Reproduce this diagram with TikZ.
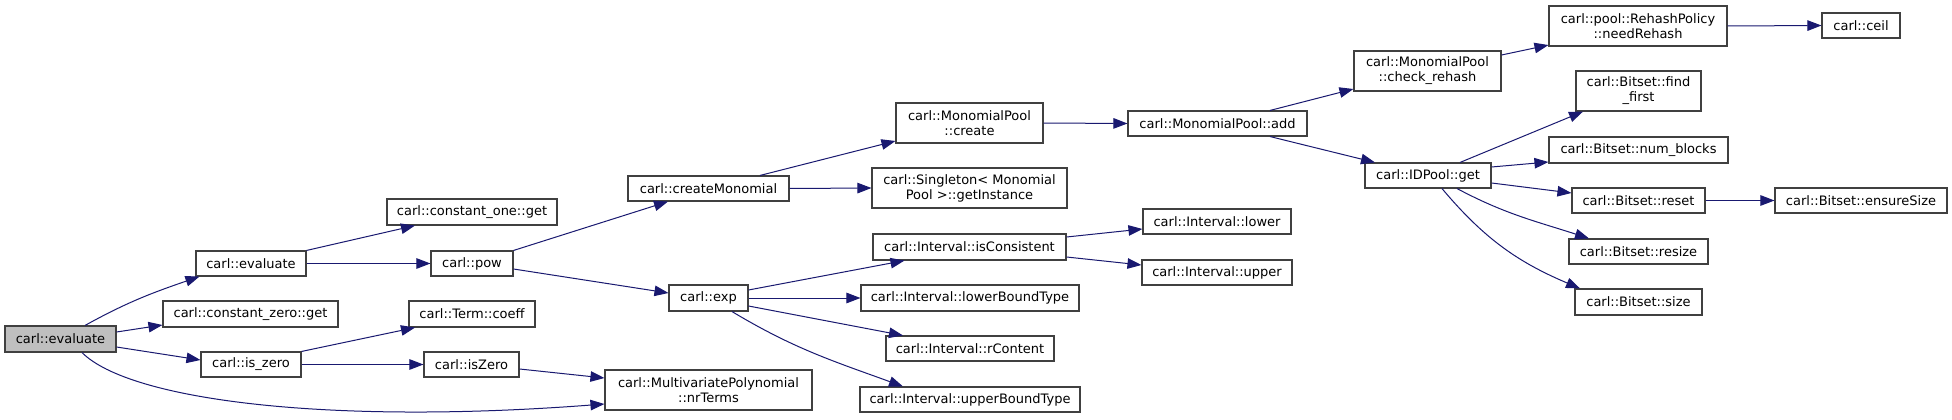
\documentclass[tikz,border=0pt]{standalone}
\usepackage{fontspec}
\setmainfont{DejaVu Sans}
\usetikzlibrary{arrows.meta}
\definecolor{edgec}{HTML}{191970}
\definecolor{boxc}{HTML}{404040}
\definecolor{rootfill}{HTML}{BFBFBF}
\begin{document}
\begin{tikzpicture}[x=1pt,y=-1pt,
  fn/.style={draw=boxc, line width=1.1pt, fill=white, inner sep=0pt, align=center,
    font=\fontsize{13}{15}\selectfont},
  rootfn/.style={fn, fill=rootfill},
  edge/.style={draw=edgec, line width=1pt, -{Triangle[length=14pt,width=10.5pt]}}]
\fill[white] (0,0) rectangle (1952,420);
\useasboundingbox (0,0) rectangle (1952,420);

% rank 0
\node[rootfn, minimum width=111pt, minimum height=26pt] (root) at (60.5,339) {carl::evaluate};
% rank 1
\node[fn, minimum width=110pt, minimum height=25pt] (eval2) at (251,263.5) {carl::evaluate};
\node[fn, minimum width=175pt, minimum height=26pt] (czero) at (250.5,314) {carl::constant\_zero::get};
\node[fn, minimum width=100pt, minimum height=25pt] (iszero) at (251,364.5) {carl::is\_zero};
% rank 2
\node[fn, minimum width=170pt, minimum height=26pt] (cone) at (472,212) {carl::constant\_one::get};
\node[fn, minimum width=82pt, minimum height=25pt] (pow) at (472,263.5) {carl::pow};
\node[fn, minimum width=126pt, minimum height=26pt] (coeff) at (472,314) {carl::Term::coeff};
\node[fn, minimum width=95pt, minimum height=25pt] (isZeroN) at (471.5,364.5) {carl::isZero};
% rank 3
\node[fn, minimum width=161pt, minimum height=25pt] (createMon) at (708.5,188.5) {carl::createMonomial};
\node[fn, minimum width=79pt, minimum height=26pt] (expN) at (708.5,298) {carl::exp};
\node[fn, minimum width=207pt, minimum height=40pt] (nrTerms) at (708.5,390) {carl::MultivariatePolynomial\\::nrTerms};
% rank 4
\node[fn, minimum width=147pt, minimum height=40pt] (create) at (969.5,123) {carl::MonomialPool\\::create};
\node[fn, minimum width=195pt, minimum height=40pt] (singleton) at (969.5,188) {carl::Singleton< Monomial\\Pool >::getInstance};
\node[fn, minimum width=193pt, minimum height=26pt] (isCons) at (969.5,247) {carl::Interval::isConsistent};
\node[fn, minimum width=218pt, minimum height=26pt] (lbt) at (970,298) {carl::Interval::lowerBoundType};
\node[fn, minimum width=168pt, minimum height=25pt] (rContent) at (970,348.5) {carl::Interval::rContent};
\node[fn, minimum width=220pt, minimum height=25pt] (ubt) at (970,399.5) {carl::Interval::upperBoundType};
% rank 5
\node[fn, minimum width=179pt, minimum height=25pt] (add) at (1217.5,123.5) {carl::MonomialPool::add};
\node[fn, minimum width=148pt, minimum height=25pt] (lower) at (1217,221.5) {carl::Interval::lower};
\node[fn, minimum width=150pt, minimum height=25pt] (upper) at (1217,272.5) {carl::Interval::upper};
% rank 6
\node[fn, minimum width=147pt, minimum height=40pt] (check) at (1427.5,71) {carl::MonomialPool\\::check\_rehash};
\node[fn, minimum width=126pt, minimum height=25pt] (idget) at (1428,175.5) {carl::IDPool::get};
% rank 7
\node[fn, minimum width=178pt, minimum height=40pt] (rehash) at (1638,26) {carl::pool::RehashPolicy\\::needRehash};
\node[fn, minimum width=125pt, minimum height=40pt] (findfirst) at (1638.5,91) {carl::Bitset::find\\\_first};
\node[fn, minimum width=179pt, minimum height=26pt] (numblocks) at (1638.5,150) {carl::Bitset::num\_blocks};
\node[fn, minimum width=133pt, minimum height=25pt] (reset) at (1638.5,200.5) {carl::Bitset::reset};
\node[fn, minimum width=139pt, minimum height=25pt] (resize) at (1638.5,251.5) {carl::Bitset::resize};
\node[fn, minimum width=127pt, minimum height=26pt] (bsize) at (1638.5,302) {carl::Bitset::size};
% rank 8
\node[fn, minimum width=78pt, minimum height=25pt] (ceil) at (1861,25.5) {carl::ceil};
\node[fn, minimum width=172pt, minimum height=25pt] (ensure) at (1861,200.5) {carl::Bitset::ensureSize};

% edges
\draw[edge] ([xshift=24.5pt]root.north) to[out=29,in=199] ([xshift=4pt]eval2.south west);
\draw[edge] ([yshift=7pt]root.east) -- ([yshift=-11pt]czero.west);
\draw[edge] ([yshift=-8pt]root.east) -- ([yshift=4.5pt]iszero.west);
\draw[edge] ([xshift=21.5pt]root.south) .. controls +(48,48) and +(-275,21) .. ([yshift=-14pt]nrTerms.west);

\draw[edge] (eval2.north east) -- ([xshift=-57pt]cone.south);
\draw[edge] (eval2.east) -- (pow.west);
\draw[edge] (iszero.north east) -- ([xshift=-57pt]coeff.south);
\draw[edge] (iszero.east) -- (isZeroN.west);
\draw[edge] ([yshift=-4.5pt]isZeroN.east) -- ([yshift=12pt]nrTerms.west);

\draw[edge] (pow.north east) -- ([xshift=-40.5pt]createMon.south);
\draw[edge] ([yshift=-5.5pt]pow.east) -- ([yshift=5pt]expN.west);

\draw[edge] ([xshift=51.5pt]createMon.north) -- ([yshift=-18pt]create.west);
\draw[edge] (createMon.east) -- (singleton.west);

\draw[edge] ([yshift=8pt]expN.east) -- ([xshift=-65pt]isCons.south);
\draw[edge] (expN.east) -- (lbt.west);
\draw[edge] ([yshift=-8pt]expN.east) -- ([xshift=-67pt]rContent.north);
\draw[edge] ([xshift=23.5pt]expN.south) to[out=-31,in=160] ([xshift=-67pt]ubt.north);

\draw[edge] ([yshift=10pt]isCons.east) -- ([yshift=-7.5pt]lower.west);
\draw[edge] ([yshift=-10pt]isCons.east) -- ([yshift=7.5pt]upper.west);

\draw[edge] (create.east) -- (add.west);
\draw[edge] ([xshift=52.5pt]add.north) -- ([yshift=-18pt]check.west);
\draw[edge] ([xshift=52.5pt]add.south) -- ([xshift=-53pt]idget.north);

\draw[edge] ([yshift=16pt]check.east) -- ([yshift=1.5pt]rehash.south west);
\draw[edge] (rehash.east) -- (ceil.west);

\draw[edge] ([xshift=32pt]idget.north) -- ([xshift=-55.5pt]findfirst.south);
\draw[edge] ([yshift=8.5pt]idget.east) -- ([yshift=-12pt]numblocks.west);
\draw[edge] ([yshift=-7.5pt]idget.east) -- ([yshift=7.5pt]reset.west);
\draw[edge] ([xshift=29pt]idget.south) to[out=-28,in=162] ([xshift=-49.5pt]resize.north);
\draw[edge] ([xshift=14pt]idget.south) to[out=-50,in=157] ([xshift=-58.5pt]bsize.north);
\draw[edge] (reset.east) -- (ensure.west);
\end{tikzpicture}
\end{document}
